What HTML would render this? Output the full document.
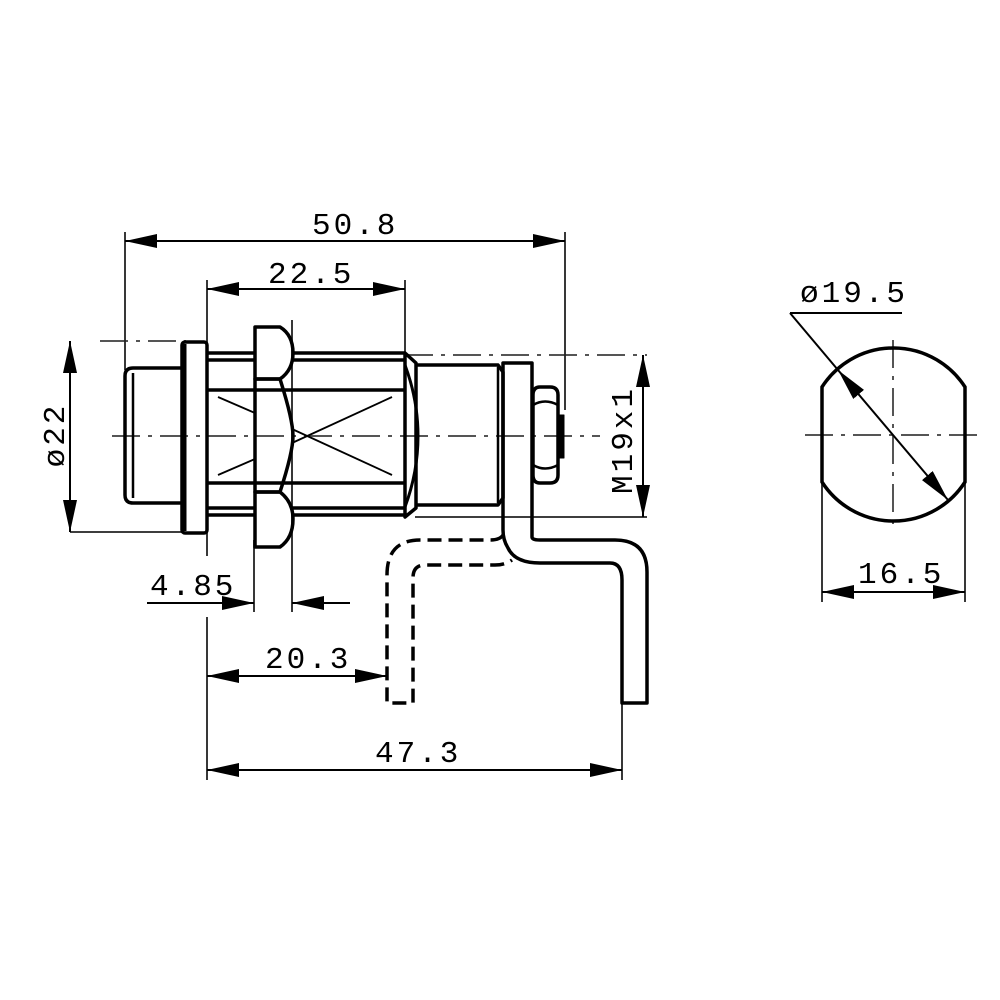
<!DOCTYPE html>
<html><head><meta charset="utf-8"><style>
html,body{margin:0;padding:0;background:#fff;}
svg{display:block}
text{font-family:"Liberation Mono","DejaVu Sans Mono",monospace;font-size:31px;fill:#000;letter-spacing:3px}
</style></head><body>
<svg width="1000" height="1000" viewBox="0 0 1000 1000" xmlns="http://www.w3.org/2000/svg">
<defs>
<marker id="a" viewBox="0 0 32 14" refX="32" refY="7" markerWidth="32" markerHeight="14" markerUnits="userSpaceOnUse" orient="auto-start-reverse"><path d="M0,0 L32,7 L0,14 Z" fill="#000"/></marker>
</defs>
<g fill="none" stroke="#000">
<g stroke="#555" stroke-width="2" stroke-dasharray="28,8,4,8">
<line x1="112" y1="436" x2="600" y2="436"/>
<line x1="805" y1="435" x2="985" y2="435"/>
<line x1="893" y1="340" x2="893" y2="530"/>
<line x1="100" y1="341" x2="186" y2="341"/>
<line x1="405" y1="355" x2="647" y2="355"/>
</g>
<g stroke-width="1.8" stroke="#222">
<line x1="125" y1="232" x2="125" y2="370"/>
<line x1="565" y1="232" x2="565" y2="410"/>
<line x1="207" y1="280" x2="207" y2="345"/>
<line x1="405" y1="280" x2="405" y2="360"/>
<line x1="70" y1="532" x2="184" y2="532"/>
<line x1="415" y1="517" x2="647" y2="517"/>
<line x1="207" y1="530" x2="207" y2="556"/>
<line x1="207" y1="617" x2="207" y2="780"/>
<line x1="254" y1="540" x2="254" y2="612"/>
<line x1="292" y1="320" x2="292" y2="612"/>
<line x1="622" y1="700" x2="622" y2="780"/>
<line x1="822" y1="480" x2="822" y2="602"/>
<line x1="965" y1="480" x2="965" y2="602"/>
</g>
<g stroke-width="2">
<line x1="125" y1="241" x2="565" y2="241" marker-start="url(#a)" marker-end="url(#a)"/>
<line x1="207" y1="289" x2="405" y2="289" marker-start="url(#a)" marker-end="url(#a)"/>
<line x1="70" y1="341" x2="70" y2="532" marker-start="url(#a)" marker-end="url(#a)"/>
<line x1="643" y1="355" x2="643" y2="517" marker-start="url(#a)" marker-end="url(#a)"/>
<line x1="147" y1="603" x2="254" y2="603" marker-end="url(#a)"/>
<line x1="350" y1="603" x2="292" y2="603" marker-end="url(#a)"/>
<line x1="207" y1="676" x2="387" y2="676" marker-start="url(#a)" marker-end="url(#a)"/>
<line x1="207" y1="770" x2="622" y2="770" marker-start="url(#a)" marker-end="url(#a)"/>
<line x1="822" y1="592" x2="965" y2="592" marker-start="url(#a)" marker-end="url(#a)"/>
<line x1="790" y1="313" x2="902" y2="313"/>
<line x1="790" y1="313" x2="838" y2="370"/>
<line x1="838" y1="370" x2="948" y2="500" marker-start="url(#a)" marker-end="url(#a)"/>
</g>
<g stroke-width="3.5" stroke-linejoin="round">
<path d="M182,368 H133 Q125,368 125,376 V495 Q125,503 133,503 H182"/>
<line x1="133" y1="373" x2="133" y2="498" stroke-width="2.5"/>
<rect x="182" y="342" width="25" height="191" rx="3"/>
<line x1="184" y1="344" x2="184" y2="531" stroke-width="5"/>
<line x1="207" y1="353" x2="255" y2="353"/><line x1="207" y1="360" x2="255" y2="360"/>
<line x1="292" y1="353" x2="405" y2="353"/><line x1="292" y1="360" x2="405" y2="360"/>
<line x1="207" y1="390" x2="405" y2="390"/>
<line x1="207" y1="483" x2="405" y2="483"/>
<line x1="207" y1="508" x2="255" y2="508"/><line x1="207" y1="515" x2="255" y2="515"/>
<line x1="292" y1="508" x2="405" y2="508"/><line x1="292" y1="515" x2="405" y2="515"/>
<path d="M255,327 H280 Q293,335 293,353 Q293,370 280,379 H255 Z"/>
<path d="M255,379 H280 Q293,420 293,436 Q293,452 280,492 H255 Z"/>
<path d="M255,492 H280 Q293,502 293,519 Q293,538 280,547 H255 Z"/>
<path d="M405,353 L416,363 V508 L405,517 Z"/>
<path d="M405,365 Q418,400 418,436 Q418,472 405,507" stroke-width="3"/>
<path d="M416,365 H498 L503,372 V498 L498,505 H416"/>
<line x1="498" y1="367" x2="498" y2="503" stroke-width="2.5"/>
<path d="M503,363 H532 V537 Q532,540 540,540 H615 Q647,540 647,572 V703 H622 V580 Q622,563 610,563 H540 Q515,563 508,548 Q503,540 503,530 Z"/>
<path d="M540,387 H550 Q558,387 558,395 V475 Q558,483 550,483 H540 Q533,483 533,475 V395 Q533,387 540,387 Z"/>
<path d="M533,405 Q545,398 558,405 M533,465 Q545,472 558,465" stroke-width="2.5"/>
<rect x="558" y="415" width="6" height="43" fill="#000" stroke-width="1"/>
<path d="M503,535 Q500,540 490,540 H420 Q387,540 387,575 V703 H413 V578 Q413,565 425,565 H495 Q505,565 512,560" stroke-dasharray="14,7"/>
</g>
<g stroke-width="1.8">
<line x1="218" y1="397" x2="255" y2="413"/>
<line x1="218" y1="475" x2="255" y2="459"/>
<line x1="292" y1="443" x2="392" y2="397"/>
<line x1="292" y1="429" x2="392" y2="475"/>
</g>
<path d="M822,387 A85,85 0 0 1 965,387 V482 A85,85 0 0 1 822,482 Z" stroke-width="3.5"/>
</g>
<text x="312" y="234">50.8</text>
<text x="268" y="283">22.5</text>
<text x="150" y="595">4.85</text>
<text x="265" y="668">20.3</text>
<text x="375" y="762">47.3</text>
<text x="800" y="302">ø19.5</text>
<text x="858" y="583">16.5</text>
<text transform="translate(64,435) rotate(-90)" text-anchor="middle">ø22</text>
<text transform="translate(632,440) rotate(-90)" text-anchor="middle">M19x1</text>
</svg>
</body></html>
